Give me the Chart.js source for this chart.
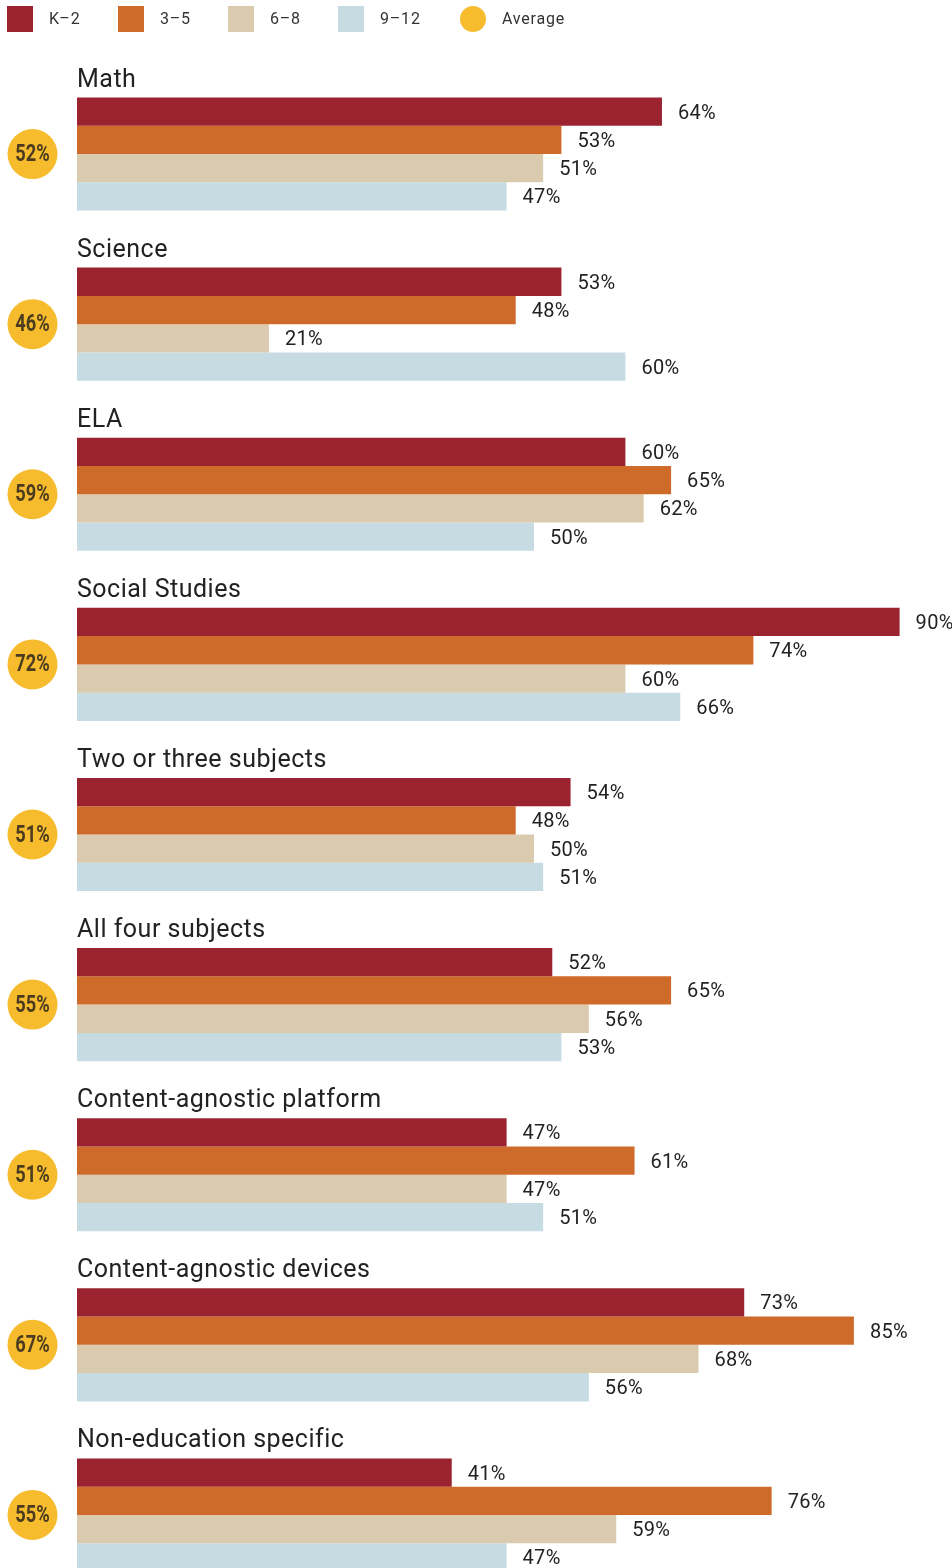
<!DOCTYPE html>
<html lang="en">
<head>
    <meta charset="UTF-8">
    <title>Use by subject and grade band</title>
    <script src="https://cdn.jsdelivr.net/npm/chart.js"></script>
    <style>
        html, body { margin: 0; padding: 0; overflow: hidden; background: #fff; }
        #wrap { width: 952px; height: 1568px; overflow: hidden; }
        canvas { display: block; }
    </style>
</head>
<body>
    <div id="wrap">
        <canvas id="chart" width="991" height="1600"></canvas>
    </div>
    <script>
        const categories = ["Math", "Science", "ELA", "Social Studies", "Two or three subjects",
            "All four subjects", "Content-agnostic platform", "Content-agnostic devices", "Non-education specific"];
        const gradeK2 = [64, 53, 60, 90, 54, 52, 47, 73, 41];
        const grade35 = [53, 48, 65, 74, 48, 65, 61, 85, 76];
        const grade68 = [51, 21, 62, 60, 50, 56, 47, 68, 59];
        const grade912 = [47, 60, 50, 66, 51, 53, 51, 56, 47];
        const averages = [52, 46, 59, 72, 51, 55, 51, 67, 55];

        const colors = ["#9b2330", "#ce6b2b", "#dbcbae", "#c7dbe3"];
        const avgColor = "#f6bc2e";
        const textColor = "#222222";

        // titles, value labels, average badges and the legend are drawn here
        const extras = {
            id: 'extras',
            afterDatasetsDraw(chart) {
                const ctx = chart.ctx;
                const yScale = chart.scales.y;
                ctx.save();

                // value labels
                ctx.font = "20px Roboto";
                ctx.letterSpacing = "0.3px";
                ctx.fillStyle = textColor;
                ctx.textBaseline = "middle";
                ctx.textAlign = "left";
                chart.data.datasets.forEach((ds, di) => {
                    chart.getDatasetMeta(di).data.forEach((bar, i) => {
                        ctx.fillText(ds.data[i] + "%", bar.x + 16, bar.y + 2);
                    });
                });

                // group titles + averages
                categories.forEach((name, i) => {
                    const cy = yScale.getPixelForValue(i);
                    ctx.font = "25px Roboto";
                    ctx.letterSpacing = "0.5px";
                    ctx.fillStyle = textColor;
                    ctx.textBaseline = "alphabetic";
                    ctx.textAlign = "left";
                    ctx.fillText(name, 77, cy - 67.5);

                    ctx.beginPath();
                    ctx.arc(32.5, cy, 25, 0, Math.PI * 2);
                    ctx.fillStyle = avgColor;
                    ctx.fill();

                    // condensed look: squeeze bold text horizontally
                    ctx.save();
                    ctx.translate(32.5, cy + 1);
                    ctx.scale(0.76, 1);
                    ctx.letterSpacing = "0px";
                    ctx.fillStyle = "#4b3b1f";
                    ctx.font = "bold 24px Roboto";
                    ctx.textAlign = "center";
                    ctx.textBaseline = "middle";
                    ctx.fillText(averages[i] + "%", 0, 0);
                    ctx.restore();
                });

                // legend
                const legendX = [7, 118, 228, 338];
                ctx.font = "16px Roboto";
                ctx.letterSpacing = "0.8px";
                ctx.textAlign = "left";
                ctx.textBaseline = "middle";
                chart.data.datasets.forEach((ds, di) => {
                    ctx.fillStyle = ds.backgroundColor;
                    ctx.fillRect(legendX[di], 6, 26, 26);
                    ctx.fillStyle = "#333";
                    ctx.fillText(ds.label, legendX[di] + 42, 20);
                });
                ctx.beginPath();
                ctx.arc(473, 19, 13, 0, Math.PI * 2);
                ctx.fillStyle = avgColor;
                ctx.fill();
                ctx.fillStyle = "#333";
                ctx.fillText("Average", 502, 20);

                ctx.restore();
            }
        };

        new Chart(document.getElementById('chart'), {
            type: 'bar',
            data: {
                labels: categories,
                datasets: [
                    { label: "K\u20132", data: gradeK2, backgroundColor: colors[0] },
                    { label: "3\u20135", data: grade35, backgroundColor: colors[1] },
                    { label: "6\u20138", data: grade68, backgroundColor: colors[2] },
                    { label: "9\u201312", data: grade912, backgroundColor: colors[3] }
                ]
            },
            options: {
                indexAxis: 'y',
                responsive: false,
                animation: false,
                layout: { padding: { left: 77, right: 0, top: 69, bottom: 0 } },
                datasets: { bar: { barPercentage: 1, categoryPercentage: 0.665, borderWidth: 0 } },
                scales: {
                    x: { min: 0, max: 100, display: false, grid: { display: false } },
                    y: { display: false, grid: { display: false } }
                },
                plugins: { legend: { display: false }, tooltip: { enabled: false } }
            },
            plugins: [extras]
        });
    </script>
</body>
</html>
